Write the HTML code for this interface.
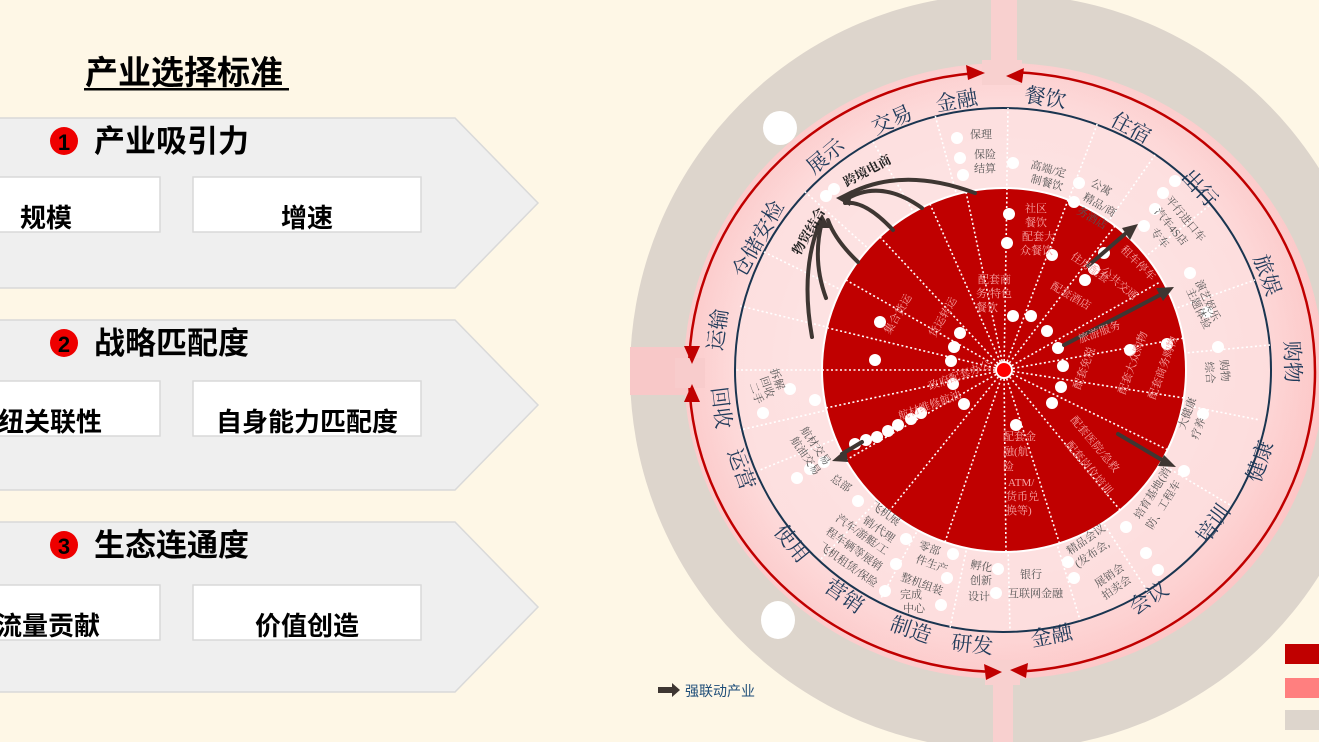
<!DOCTYPE html>
<html><head><meta charset="utf-8"><style>
html,body{margin:0;padding:0;}
body{width:1319px;height:742px;overflow:hidden;background:#fef7e6;position:relative;font-family:"Liberation Sans","Noto Sans CJK SC",sans-serif;}
svg{position:absolute;left:0;top:0;}
</style></head><body>
<svg width="1319" height="742" viewBox="0 0 1319 742" xmlns="http://www.w3.org/2000/svg">
<defs>
<radialGradient id="pk" cx="1004" cy="370" r="320" gradientUnits="userSpaceOnUse">
<stop offset="0.55" stop-color="#fde3e3"/><stop offset="0.85" stop-color="#fdd8d8"/><stop offset="1" stop-color="#fcc8c8"/>
</radialGradient>
<linearGradient id="lg" x1="0" y1="0" x2="1" y2="1">
<stop offset="0" stop-color="#fff" stop-opacity="0"/><stop offset="1" stop-color="#ffb0b0" stop-opacity="0.3"/>
</linearGradient>
</defs>
<text x="85" y="84" font-size="33" font-weight="bold" fill="#000" font-family="Liberation Sans,Noto Sans CJK SC,sans-serif">产业选择标准</text>
<rect x="84" y="88" width="205" height="2.5" fill="#000"/>
<g font-family="Liberation Sans,Noto Sans CJK SC,sans-serif" font-weight="bold">
<g>
<polygon points="-2,118 455,118 538,203 455,288 -2,288" fill="#efefef" stroke="#d9d9d9" stroke-width="1.5"/>
<circle cx="64" cy="141" r="14" fill="#ee0000"/><text x="64" y="150" font-size="22" text-anchor="middle" fill="#000">1</text>
<text x="94" y="152" font-size="31" fill="#000">产业吸引力</text>
<rect x="-5" y="177" width="165" height="55" fill="#fff" stroke="#d9d9d9" stroke-width="1.5"/>
<rect x="193" y="177" width="228" height="55" fill="#fff" stroke="#d9d9d9" stroke-width="1.5"/>
<text x="46" y="227" font-size="26" text-anchor="middle">规模</text>
<text x="307" y="227" font-size="26" text-anchor="middle">增速</text>
</g>
<g transform="translate(0,202)">
<polygon points="-2,118 455,118 538,203 455,288 -2,288" fill="#efefef" stroke="#d9d9d9" stroke-width="1.5"/>
<circle cx="64" cy="141" r="14" fill="#ee0000"/><text x="64" y="150" font-size="22" text-anchor="middle" fill="#000">2</text>
<text x="94" y="152" font-size="31" fill="#000">战略匹配度</text>
<rect x="-5" y="179" width="165" height="55" fill="#fff" stroke="#d9d9d9" stroke-width="1.5"/>
<rect x="193" y="179" width="228" height="55" fill="#fff" stroke="#d9d9d9" stroke-width="1.5"/>
<text x="-28" y="229" font-size="26">枢纽关联性</text>
<text x="307" y="229" font-size="26" text-anchor="middle">自身能力匹配度</text>
</g>
<g transform="translate(0,404)">
<polygon points="-2,118 455,118 538,203 455,288 -2,288" fill="#efefef" stroke="#d9d9d9" stroke-width="1.5"/>
<circle cx="64" cy="141" r="14" fill="#ee0000"/><text x="64" y="150" font-size="22" text-anchor="middle" fill="#000">3</text>
<text x="94" y="152" font-size="31" fill="#000">生态连通度</text>
<rect x="-5" y="181" width="165" height="55" fill="#fff" stroke="#d9d9d9" stroke-width="1.5"/>
<rect x="193" y="181" width="228" height="55" fill="#fff" stroke="#d9d9d9" stroke-width="1.5"/>
<text x="-4" y="231" font-size="26">流量贡献</text>
<text x="307" y="231" font-size="26" text-anchor="middle">价值创造</text>
</g>
</g>

<ellipse cx="1004" cy="372" rx="374" ry="378" fill="#ddd5cc"/>
<ellipse cx="780" cy="128" rx="17" ry="17" fill="#fff"/>
<ellipse cx="778" cy="620" rx="17" ry="19" fill="#fff"/>
<ellipse cx="1004" cy="371" rx="320" ry="308" fill="url(#pk)"/>
<ellipse cx="1004" cy="371" rx="320" ry="308" fill="url(#lg)"/>
<rect x="991" y="0" width="26" height="70" fill="#f8d0cf"/>
<rect x="630" y="347" width="60" height="48" fill="#f8c8c8"/>
<rect x="993" y="672" width="20" height="70" fill="#f8d0cf"/>
<ellipse cx="1002" cy="372" rx="313" ry="300" fill="none" stroke="#c00000" stroke-width="2.5"/>
<rect x="982" y="60" width="40" height="25" fill="#f8d0cf"/>
<rect x="675" y="358" width="30" height="30" fill="#f8cccc"/>
<rect x="985" y="660" width="35" height="25" fill="#f8d0cf"/>
<g fill="#c00000">
<polygon points="985,73 966,65 968,80"/>
<polygon points="1006,76 1024,68 1022,83"/>
<polygon points="692,364 684,346 700,346"/>
<polygon points="692,384 684,402 700,402"/>
<polygon points="1002,672 984,664 986,680"/>
<polygon points="1010,670 1028,663 1026,678"/>
</g>
<ellipse cx="1003" cy="370" rx="268" ry="262" fill="#fde2e2" fill-opacity="0.6" stroke="#1a3550" stroke-width="2"/>
<g stroke="#fff" stroke-width="1.6" stroke-dasharray="2,2.5" fill="none">
<line x1="1004" y1="370" x2="736" y2="370"/>
<line x1="1004" y1="370" x2="740" y2="306"/>
<line x1="1004" y1="370" x2="760" y2="250"/>
<line x1="1004" y1="370" x2="803" y2="190"/>
<line x1="1004" y1="370" x2="872" y2="140"/>
<line x1="1004" y1="370" x2="935" y2="115"/>
<line x1="1004" y1="370" x2="1008" y2="108"/>
<line x1="1004" y1="370" x2="1098" y2="122"/>
<line x1="1004" y1="370" x2="1155" y2="155"/>
<line x1="1004" y1="370" x2="1210" y2="205"/>
<line x1="1004" y1="370" x2="1255" y2="280"/>
<line x1="1004" y1="370" x2="1270" y2="345"/>
<line x1="1004" y1="370" x2="1260" y2="420"/>
<line x1="1004" y1="370" x2="1230" y2="505"/>
<line x1="1004" y1="370" x2="1150" y2="595"/>
<line x1="1004" y1="370" x2="1080" y2="620"/>
<line x1="1004" y1="370" x2="1010" y2="630"/>
<line x1="1004" y1="370" x2="950" y2="628"/>
<line x1="1004" y1="370" x2="880" y2="600"/>
<line x1="1004" y1="370" x2="820" y2="560"/>
<line x1="1004" y1="370" x2="760" y2="470"/>
<line x1="1004" y1="370" x2="740" y2="430"/>
</g>
<ellipse cx="1004" cy="370" rx="182" ry="182" fill="#c00000" stroke="#fff" stroke-width="2"/>
<g stroke="#fff" stroke-width="1.6" stroke-dasharray="2,2.5" fill="none">
<line x1="1004" y1="370" x2="822" y2="370"/>
<line x1="1004" y1="370" x2="828" y2="328"/>
<line x1="1004" y1="370" x2="846" y2="280"/>
<line x1="1004" y1="370" x2="880" y2="237"/>
<line x1="1004" y1="370" x2="930" y2="204"/>
<line x1="1004" y1="370" x2="966" y2="192"/>
<line x1="1004" y1="370" x2="1007" y2="188"/>
<line x1="1004" y1="370" x2="1068" y2="200"/>
<line x1="1004" y1="370" x2="1115" y2="226"/>
<line x1="1004" y1="370" x2="1160" y2="282"/>
<line x1="1004" y1="370" x2="1184" y2="338"/>
<line x1="1004" y1="370" x2="1184" y2="398"/>
<line x1="1004" y1="370" x2="1168" y2="450"/>
<line x1="1004" y1="370" x2="1120" y2="510"/>
<line x1="1004" y1="370" x2="1060" y2="545"/>
<line x1="1004" y1="370" x2="1006" y2="552"/>
<line x1="1004" y1="370" x2="945" y2="542"/>
<line x1="1004" y1="370" x2="890" y2="510"/>
<line x1="1004" y1="370" x2="846" y2="460"/>
<line x1="1004" y1="370" x2="826" y2="408"/>
</g>
<circle cx="1004" cy="370" r="8" fill="#f00" stroke="#fff" stroke-width="2"/>

<g fill="#fff">
<circle cx="957" cy="138" r="6"/><circle cx="960" cy="158" r="6"/><circle cx="963" cy="175" r="6"/>
<circle cx="1013" cy="163" r="6"/><circle cx="1079" cy="183" r="6"/><circle cx="1074" cy="202" r="6"/>
<circle cx="1175" cy="181" r="6"/><circle cx="1163" cy="193" r="6"/><circle cx="1155" cy="209" r="6"/><circle cx="1144" cy="226" r="6"/>
<circle cx="1009" cy="214" r="6"/><circle cx="1007" cy="243" r="6"/><circle cx="1052" cy="255" r="6"/>
<circle cx="1104" cy="253" r="6"/><circle cx="1094" cy="269" r="6"/><circle cx="1085" cy="280" r="6"/>
<circle cx="1013" cy="316" r="6"/><circle cx="1031" cy="316" r="6"/><circle cx="1047" cy="331" r="6"/>
<circle cx="1058" cy="348" r="6"/><circle cx="1063" cy="366" r="6"/><circle cx="1061" cy="387" r="6"/><circle cx="1052" cy="403" r="6"/>
<circle cx="1130" cy="350" r="6"/><circle cx="1167" cy="344" r="6"/>
<circle cx="1190" cy="273" r="6"/><circle cx="1207" cy="312" r="6"/><circle cx="1218" cy="347" r="6"/>
<circle cx="1203" cy="414" r="6"/><circle cx="1184" cy="471" r="6"/>
<circle cx="1016" cy="425" r="6"/><circle cx="1126" cy="527" r="6"/><circle cx="1146" cy="553" r="6"/><circle cx="1158" cy="570" r="6"/>
<circle cx="1068" cy="562" r="6"/><circle cx="1074" cy="578" r="6"/>
<circle cx="880" cy="322" r="6"/><circle cx="875" cy="360" r="6"/><circle cx="960" cy="333" r="6"/><circle cx="954" cy="347" r="6"/><circle cx="951" cy="361" r="6"/>
<circle cx="953" cy="384" r="6"/><circle cx="964" cy="404" r="6"/>
<circle cx="921" cy="413" r="6"/><circle cx="911" cy="419" r="6"/><circle cx="898" cy="425" r="6"/><circle cx="888" cy="431" r="6"/><circle cx="877" cy="437" r="6"/><circle cx="866" cy="440" r="6"/><circle cx="855" cy="444" r="6"/>
<circle cx="815" cy="400" r="6"/><circle cx="790" cy="389" r="6"/><circle cx="763" cy="413" r="6"/>
<circle cx="824" cy="462" r="6"/><circle cx="810" cy="469" r="6"/><circle cx="797" cy="478" r="6"/>
<circle cx="858" cy="501" r="6"/><circle cx="906" cy="539" r="6"/><circle cx="896" cy="564" r="6"/><circle cx="885" cy="591" r="6"/>
<circle cx="953" cy="554" r="6"/><circle cx="947" cy="578" r="6"/><circle cx="941" cy="605" r="6"/>
<circle cx="998" cy="569" r="6"/><circle cx="996" cy="593" r="6"/>
<circle cx="826" cy="196" r="6"/><circle cx="834" cy="189" r="6"/>
</g>

<g stroke="#3e3632" stroke-width="4" fill="none" stroke-linecap="round">
<path d="M975 193 Q900 165 845 196"/>
<path d="M922 208 Q880 178 845 200"/>
<path d="M893 230 Q865 200 845 203"/>
<path d="M858 262 Q835 240 828 220"/>
<path d="M826 298 Q812 260 822 222"/>
<path d="M812 337 Q800 270 820 222"/>
<path d="M1088 266 L1125 234"/>
<path d="M1064 345 L1160 295"/>
<path d="M1118 434 L1162 460"/>
<path d="M862 442 L842 454"/>
</g>
<g fill="#3e3632">
<polygon points="836,198 852,190 850,206"/>
<polygon points="822,214 814,228 830,228"/>
<polygon points="1138,224 1122,228 1130,240"/>
<polygon points="1174,287 1156,288 1163,301"/>
<polygon points="1176,467 1158,466 1164,455"/>
<polygon points="832,461 846,449 848,462"/>
</g>

<g font-family="Liberation Serif,Noto Serif CJK SC,serif" font-size="21" fill="#1f3a5a" text-anchor="middle" dominant-baseline="middle">
<text transform="translate(957,103) rotate(-10)">金融</text>
<text transform="translate(1045,100) rotate(9)">餐饮</text>
<text transform="translate(1130,130) rotate(28)">住宿</text>
<text transform="translate(1198,190) rotate(47)">出行</text>
<text transform="translate(1265,276) rotate(70)">旅娱</text>
<text transform="translate(1290,362) rotate(88)">购物</text>
<text transform="translate(1262,462) rotate(-71)">健康</text>
<text transform="translate(1215,525) rotate(-54)">培训</text>
<text transform="translate(1150,600) rotate(-33)">会议</text>
<text transform="translate(1052,638) rotate(-11)">金融</text>
<text transform="translate(972,647) rotate(6)">研发</text>
<text transform="translate(910,632) rotate(19)">制造</text>
<text transform="translate(843,598) rotate(35)">营销</text>
<text transform="translate(790,545) rotate(51)">使用</text>
<text transform="translate(739,470) rotate(70)">运营</text>
<text transform="translate(719,408) rotate(83)">回收</text>
<text transform="translate(720,330) rotate(-82)">运输</text>
<text transform="translate(760,240) rotate(-61)">仓储安检</text>
<text transform="translate(827,158) rotate(-40)">展示</text>
<text transform="translate(893,122) rotate(-24)">交易</text>
</g>
<g font-family="Liberation Serif,Noto Serif CJK SC,serif" font-size="13" fill="#222" font-weight="bold" text-anchor="middle" dominant-baseline="middle">
<text transform="translate(868,172) rotate(-28)">跨境电商</text>
<text transform="translate(810,232) rotate(-60)">物贸结合</text>
</g>
<g font-family="Liberation Serif,Noto Serif CJK SC,serif" font-size="11" fill="#555">
<text x="970" y="138">保理</text><text x="974" y="158">保险</text><text x="974" y="172">结算</text>
<text x="1030" y="168" transform="rotate(15 1030 168)">高端/定</text><text x="1030" y="182" transform="rotate(15 1030 182)">制餐饮</text>
<text x="1090" y="185" transform="rotate(30 1090 185)">公寓</text><text x="1082" y="199" transform="rotate(30 1082 199)">精品/商</text><text x="1076" y="213" transform="rotate(30 1076 213)">务酒店</text>
<text x="1165" y="200" transform="rotate(50 1165 200)">平行进口车</text><text x="1154" y="212" transform="rotate(50 1154 212)">汽车4S店</text><text x="1150" y="232" transform="rotate(50 1150 232)">专车</text>
<text x="1195" y="282" transform="rotate(65 1195 282)">演艺娱乐</text><text x="1186" y="290" transform="rotate(65 1186 290)">主题体验</text>
<text x="1220" y="360" transform="rotate(85 1220 360)">购物</text><text x="1205" y="362" transform="rotate(85 1205 362)">综合</text>
<text x="1185" y="430" transform="rotate(-70 1185 430)">大健康</text><text x="1198" y="440" transform="rotate(-70 1198 440)">疗养</text>
<text x="1140" y="520" transform="rotate(-58 1140 520)">培育基地(消</text><text x="1152" y="530" transform="rotate(-58 1152 530)">防、工程车</text>
<text x="1070" y="555" transform="rotate(-35 1070 555)">精品会议</text><text x="1078" y="568" transform="rotate(-35 1078 568)">(发布会,</text>
<text x="1098" y="588" transform="rotate(-35 1098 588)">展销会</text><text x="1105" y="600" transform="rotate(-35 1105 600)">拍卖会</text>
<text x="1020" y="578">银行</text><text x="1008" y="597">互联网金融</text>
<text x="970" y="568" transform="rotate(10 970 568)">孵化</text><text x="970" y="584">创新</text><text x="968" y="600">设计</text>
<text x="918" y="548" transform="rotate(20 918 548)">零部</text><text x="915" y="562" transform="rotate(20 915 562)">件生产</text><text x="900" y="580" transform="rotate(20 900 580)">整机组装</text><text x="900" y="598">完成</text><text x="903" y="612">中心</text>
<text x="870" y="507" transform="rotate(35 870 507)">飞机展</text><text x="862" y="522" transform="rotate(35 862 522)">销/代理</text><text x="835" y="520" transform="rotate(35 835 520)">汽车/游艇/工</text><text x="825" y="533" transform="rotate(35 825 533)">程车辆等展销</text><text x="818" y="548" transform="rotate(35 818 548)">飞机租赁/保险</text>
<text x="830" y="480" transform="rotate(35 830 480)">总部</text>
<text x="800" y="430" transform="rotate(55 800 430)">航材交易</text><text x="790" y="440" transform="rotate(55 790 440)">航油交易</text>
<text x="770" y="370" transform="rotate(70 770 370)">拆解</text><text x="760" y="378" transform="rotate(70 760 378)">回收</text><text x="749" y="384" transform="rotate(70 749 384)">二手</text>
</g>
<g font-family="Liberation Serif,Noto Serif CJK SC,serif" font-size="11" fill="#f6a3a3">
<text x="1025" y="212">社区</text><text x="1025" y="226">餐饮</text><text x="1022" y="240">配套大</text><text x="1020" y="254">众餐饮</text>
<text x="978" y="283">配套商</text><text x="976" y="297">务/特色</text><text x="976" y="311">餐饮</text>
<text x="1050" y="288" transform="rotate(30 1050 288)">配套酒店</text>
<text x="1070" y="258" transform="rotate(35 1070 258)">住房配套</text>
<text x="1100" y="272" transform="rotate(40 1100 272)">公共交通</text>
<text x="1120" y="250" transform="rotate(45 1120 250)">租车停车</text>
<text x="1080" y="343" transform="rotate(-20 1080 343)">旅游服务</text>
<text x="1080" y="390" transform="rotate(-70 1080 390)">配套免税</text>
<text x="1125" y="395" transform="rotate(-70 1125 395)">配套大众购物</text>
<text x="1155" y="400" transform="rotate(-70 1155 400)">配套商务购物</text>
<text x="1070" y="420" transform="rotate(50 1070 420)">配套医院/急救</text>
<text x="1065" y="445" transform="rotate(50 1065 445)">配套岗位培训</text>
<text x="1003" y="440">配套金</text><text x="1003" y="455">融(航</text><text x="1003" y="470">险</text><text x="1008" y="486">ATM/</text><text x="1006" y="500">货币兑</text><text x="1006" y="514">换等)</text>
<text x="890" y="335" transform="rotate(-60 890 335)">集合货运</text>
<text x="935" y="338" transform="rotate(-60 935 338)">货运转运</text>
<text x="900" y="420" transform="rotate(-20 900 420)">航材维修航油</text>
<text x="930" y="390" transform="rotate(-20 930 390)">政府配套办公</text>
</g>

<polygon points="658,687 672,687 672,683 680,690 672,697 672,693 658,693" fill="#3e3632"/>
<text x="685" y="696" font-size="14" fill="#1f4e79" font-family="Liberation Sans,Noto Sans CJK SC,sans-serif">强联动产业</text>
<rect x="1285" y="644" width="34" height="20" fill="#c00000"/>
<rect x="1285" y="678" width="34" height="20" fill="#ff7f7f"/>
<rect x="1285" y="710" width="34" height="20" fill="#ddd5cc"/>
</svg>
</body></html>
